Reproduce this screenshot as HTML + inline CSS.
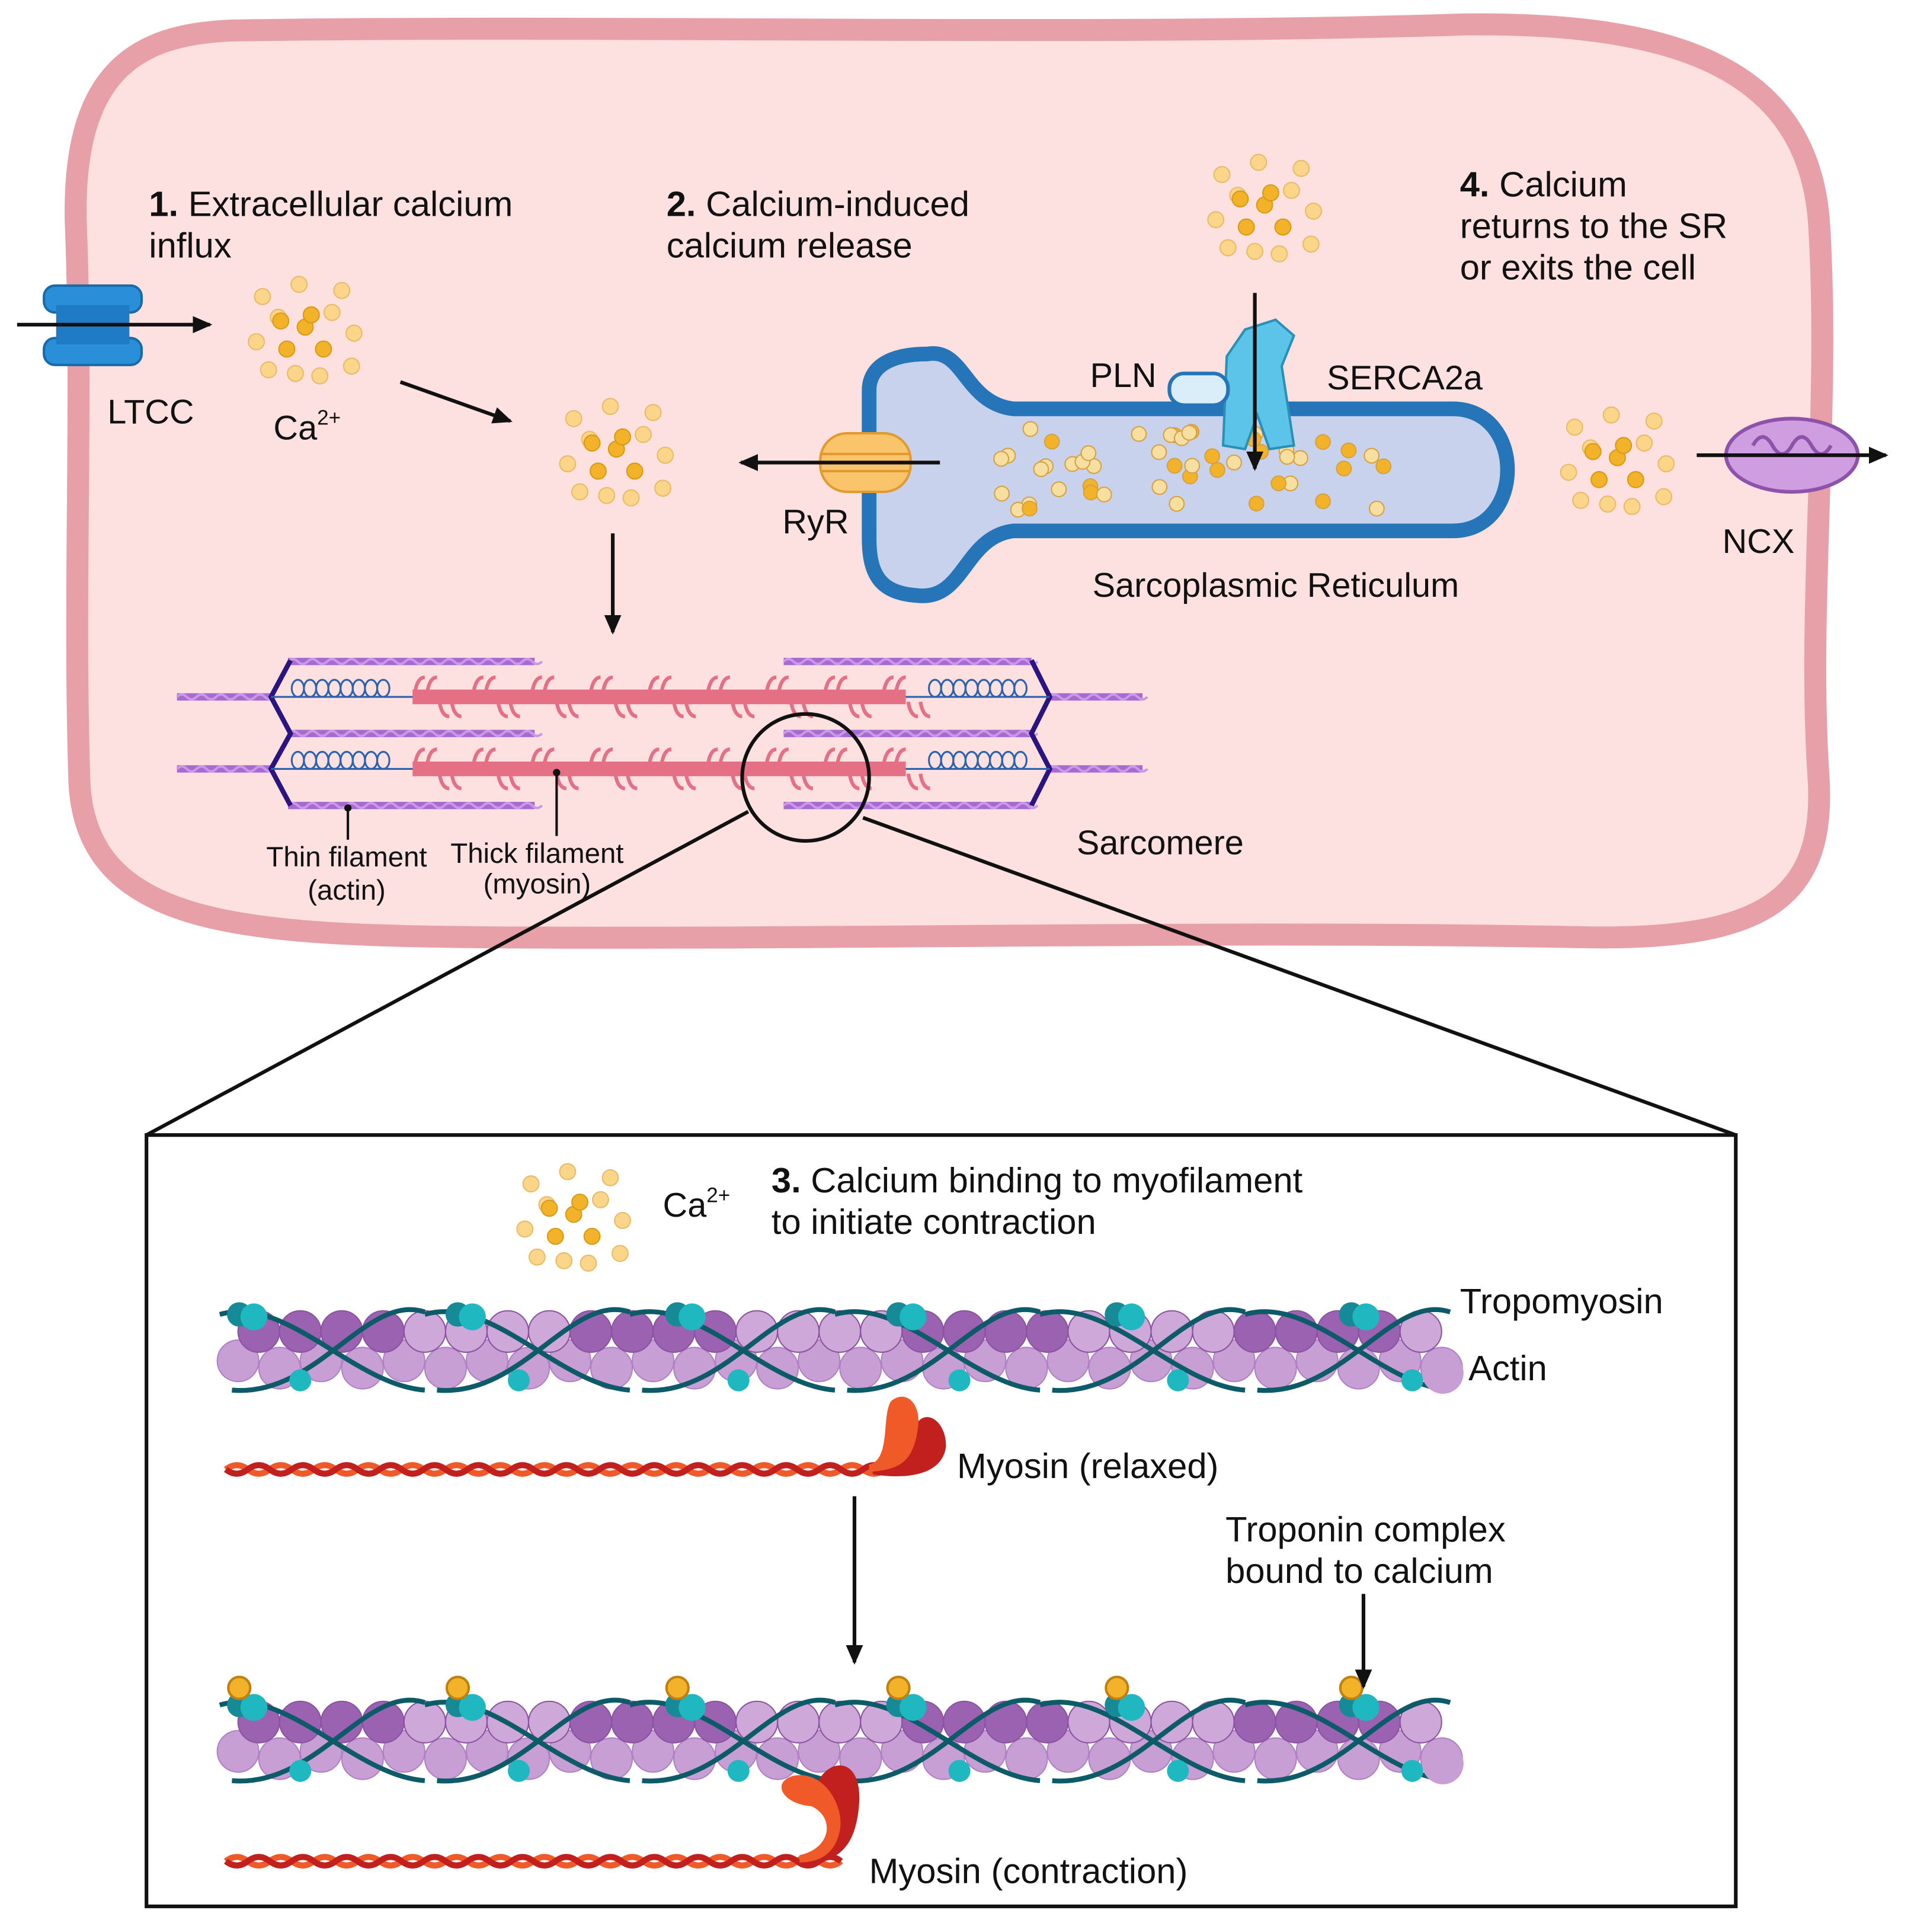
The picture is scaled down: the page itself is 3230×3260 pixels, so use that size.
<!DOCTYPE html>
<html><head><meta charset="utf-8"><style>
html,body{margin:0;padding:0;background:#fff}
svg{display:block}
text{font-family:"Liberation Sans",sans-serif;fill:#111}
</style></head><body>
<svg id="s" width="3230" height="3260" viewBox="0 0 1568 1583" preserveAspectRatio="none" xmlns="http://www.w3.org/2000/svg">
<defs>
<marker id="ah2" markerWidth="16" markerHeight="14" refX="14" refY="7" orient="auto" markerUnits="userSpaceOnUse"><path d="M0,0 L16,7 L0,14 z" fill="#111"/></marker>
</defs>
<rect width="1568" height="1583" fill="#fff"/>
<path d="M190,25 C500,20 900,30 1200,20 C1380,18 1480,60 1490,180 C1500,330 1480,500 1490,640 C1495,740 1440,770 1300,768 C1000,762 700,770 400,768 C200,766 70,760 65,640 C60,480 68,330 62,180 C60,60 110,28 190,25 z" fill="#fde0e0" stroke="#e8a0a8" stroke-width="18"/>
<g id="dyn"></g>
<circle cx="660" cy="637" r="52" fill="none" stroke="#111" stroke-width="3"/>
<line x1="613" y1="665" x2="120" y2="930" stroke="#111" stroke-width="3"/>
<line x1="707" y1="670" x2="1422" y2="930" stroke="#111" stroke-width="3"/>
<rect x="120" y="930" width="1302" height="632" fill="#fff" stroke="#111" stroke-width="3"/>
<g id="dyn2"></g>
<g font-size="29">
<text x="122" y="177"><tspan font-weight="bold">1.</tspan> Extracellular calcium</text>
<text x="122" y="211">influx</text>
<text x="546" y="177"><tspan font-weight="bold">2.</tspan> Calcium-induced</text>
<text x="546" y="211">calcium release</text>
<text x="1196" y="161"><tspan font-weight="bold">4.</tspan> Calcium</text>
<text x="1196" y="195">returns to the SR</text>
<text x="1196" y="229">or exits the cell</text>
<text x="632" y="977"><tspan font-weight="bold">3.</tspan> Calcium binding to myofilament</text>
<text x="632" y="1011">to initiate contraction</text>
<text x="1196" y="1076">Tropomyosin</text>
<text x="1203" y="1131">Actin</text>
<text x="784" y="1211">Myosin (relaxed)</text>
<text x="1004" y="1263">Troponin complex</text>
<text x="1004" y="1297">bound to calcium</text>
<text x="712" y="1543">Myosin (contraction)</text>
</g>
<g font-size="28">
<text x="88" y="347">LTCC</text>
<text x="224" y="360">Ca<tspan font-size="17" dy="-12">2+</tspan></text>
<text x="641" y="437">RyR</text>
<text x="893" y="317">PLN</text>
<text x="1087" y="319">SERCA2a</text>
<text x="895" y="489">Sarcoplasmic Reticulum</text>
<text x="1411" y="453">NCX</text>
<text x="882" y="700">Sarcomere</text>
<text x="543" y="997">Ca<tspan font-size="17" dy="-12">2+</tspan></text>
</g>
<text x="284" y="710" font-size="23" text-anchor="middle">Thin filament</text>
<text x="284" y="737" font-size="23" text-anchor="middle">(actin)</text>
<text x="440" y="707" font-size="23" text-anchor="middle">Thick filament</text>
<text x="440" y="732" font-size="23" text-anchor="middle">(myosin)</text>
</svg>
<script>
const NS="http://www.w3.org/2000/svg";
function el(p,t,a){const e=document.createElementNS(NS,t);for(const k in a)e.setAttribute(k,a[k]);p.appendChild(e);return e;}
const g=document.getElementById('dyn'),g2=document.getElementById('dyn2');
let seed=7;function rnd(){seed=(seed*9301+49297)%233280;return seed/233280;}
const cl=[[0,0,1],[-22,-8,0],[22,-12,0],[-15,18,1],[15,18,1],[-40,12,0],[40,5,0],[-5,-35,0],[30,-30,0],[-35,-25,0],[-30,35,0],[-8,38,0],[12,40,0],[38,32,0],[5,-10,1],[-20,-5,1]];
function cluster(p,cx,cy){cl.forEach(c=>el(p,'circle',{cx:cx+c[0],cy:cy+c[1],r:6.5,fill:c[2]?'#f2b32a':'#fbd58a',stroke:c[2]?'#d99a10':'#e8bb66','stroke-width':1}));}
cluster(g,250,268);cluster(g,505,368);cluster(g,1036,168);cluster(g,1325,375);cluster(g2,470,995);
el(g,'rect',{x:36,y:234,width:80,height:22,rx:9,fill:'#2a8fd8',stroke:'#1a6aa8','stroke-width':2});
el(g,'rect',{x:36,y:277,width:80,height:22,rx:9,fill:'#2a8fd8',stroke:'#1a6aa8','stroke-width':2});
el(g,'rect',{x:46,y:250,width:60,height:32,fill:'#1f7cc4'});
el(g,'line',{x1:14,y1:266,x2:172,y2:266,stroke:'#111','stroke-width':3,'marker-end':'url(#ah2)'});
el(g,'line',{x1:328,y1:313,x2:418,y2:345,stroke:'#111','stroke-width':3,'marker-end':'url(#ah2)'});
el(g,'line',{x1:502,y1:437,x2:502,y2:518,stroke:'#111','stroke-width':3,'marker-end':'url(#ah2)'});
el(g,'path',{d:'M760,290 C790,285 790,330 830,335 L1190,335 C1250,335 1250,435 1190,435 L830,435 C790,440 790,492 752,488 C720,486 712,470 712,440 L712,320 C712,300 730,290 760,290 z',fill:'#c8d2ec',stroke:'#2675b8','stroke-width':12});
for(let i=0;i<50;i++){const x=818+rnd()*320,y=350+rnd()*72;const d=rnd()<0.35;el(g,'circle',{cx:x,cy:y,r:6,fill:d?'#f2b32a':'#f6dfa0',stroke:'#d9a040','stroke-width':1});}
el(g,'rect',{x:672,y:355,width:74,height:48,rx:22,fill:'#f9c46a',stroke:'#e09a30','stroke-width':2});
el(g,'line',{x1:672,y1:372,x2:746,y2:372,stroke:'#e09a30','stroke-width':2});
el(g,'line',{x1:672,y1:386,x2:746,y2:386,stroke:'#e09a30','stroke-width':2});
el(g,'line',{x1:770,y1:379,x2:607,y2:379,stroke:'#111','stroke-width':3,'marker-end':'url(#ah2)'});
el(g,'path',{d:'M1005,292 L1020,270 L1045,262 L1060,275 L1050,300 L1060,365 L1040,368 L1030,340 L1020,368 L1002,365 z',fill:'#5cc4e8',stroke:'#2a90b8','stroke-width':2});
el(g,'rect',{x:958,y:306,width:48,height:26,rx:12,fill:'#daeefa',stroke:'#2675b8','stroke-width':3});
el(g,'line',{x1:1028,y1:240,x2:1028,y2:384,stroke:'#111','stroke-width':3,'marker-end':'url(#ah2)'});
el(g,'ellipse',{cx:1468,cy:373,rx:54,ry:30,fill:'#cf9ee0',stroke:'#8e52aa','stroke-width':3});
el(g,'path',{d:'M1436,365 q8,-14 16,0 q8,14 16,0 q8,-14 16,0 q8,14 16,0',fill:'none',stroke:'#8e52aa','stroke-width':3});
el(g,'line',{x1:1390,y1:373,x2:1545,y2:373,stroke:'#111','stroke-width':3,'marker-end':'url(#ah2)'});
function thin(x1,x2,y){el(g,'line',{x1,y1:y,x2,y2:y,stroke:'#a86ad0','stroke-width':6});let d='M'+x1+','+y;for(let x=x1;x<x2;x+=16)d+=' q4,-4 8,0 q4,4 8,0';el(g,'path',{d,fill:'none',stroke:'#c89ae6','stroke-width':2});}
[542,601,660].forEach(y=>{thin(236,438,y);thin(642,845,y);});
[571,630].forEach(y=>{thin(145,222,y);thin(860,936,y);});
el(g,'path',{d:'M238,541 L222,571 L238,601 L222,630 L238,660',fill:'none',stroke:'#2a1480','stroke-width':4});
el(g,'path',{d:'M845,541 L860,571 L845,601 L860,630 L845,660',fill:'none',stroke:'#2a1480','stroke-width':4});
[571,630].forEach(y=>{
 el(g,'line',{x1:222,y1:y,x2:860,y2:y,stroke:'#2a62b0','stroke-width':1.5});
 for(let i=0;i<8;i++){el(g,'ellipse',{cx:244+i*10,cy:y-7,rx:5,ry:7,fill:'none',stroke:'#2a62b0','stroke-width':1.5});el(g,'ellipse',{cx:766+i*10,cy:y-7,rx:5,ry:7,fill:'none',stroke:'#2a62b0','stroke-width':1.5});}
 el(g,'rect',{x:338,y:y-6,width:404,height:12,fill:'#e57086'});
 for(let x=340;x<740;x+=48){el(g,'path',{d:`M${x},${y-4} q2,-12 8,-12 M${x+10},${y-4} q2,-12 8,-12 M${x+20},${y+4} q2,12 8,12 M${x+30},${y+4} q2,12 8,12`,fill:'none',stroke:'#e57086','stroke-width':3});}
});
el(g,'line',{x1:285,y1:662,x2:285,y2:688,stroke:'#111','stroke-width':2});el(g,'circle',{cx:285,cy:662,r:3,fill:'#111'});
el(g,'line',{x1:456,y1:633,x2:456,y2:685,stroke:'#111','stroke-width':2});el(g,'circle',{cx:456,cy:633,r:3,fill:'#111'});
function filament(y0,ca){
 const dk='#0d5a68';
 for(let i=0;i<30;i++){const x=195+i*34;el(g2,'circle',{cx:x,cy:y0+12+((i%2)?4:-2),r:17,fill:'#c79fd4',stroke:'#b080c4','stroke-width':1});}
 for(let i=0;i<29;i++){const x=212+i*34;el(g2,'circle',{cx:x,cy:y0-14,r:17,fill:(Math.floor(i/4)%2)?'#cfa8da':'#9a62b0',stroke:'#8a52a0','stroke-width':1});}
 const sp=168;
 for(let s=0;s<6;s++){const x=180+s*sp;
  el(g2,'path',{d:`M${x},${y0-28} C${x+55},${y0-44} ${x+110},${y0+30} ${x+sp},${y0+34}`,fill:'none',stroke:dk,'stroke-width':4});
  el(g2,'path',{d:`M${x+10},${y0+34} C${x+80},${y0+40} ${x+120},${y0-46} ${x+sp},${y0-30}`,fill:'none',stroke:dk,'stroke-width':4});
  const tx=[196,375,555,736,915,1107][s];
  el(g2,'circle',{cx:tx,cy:y0-28,r:10,fill:'#168a96'});el(g2,'circle',{cx:tx+12,cy:y0-26,r:11,fill:'#20b8c0'});
  el(g2,'circle',{cx:tx+50,cy:y0+26,r:9,fill:'#20b8c0'});
  if(ca)el(g2,'circle',{cx:tx,cy:y0-42,r:9,fill:'#f2b32a',stroke:'#c08010','stroke-width':2});
 }
 el(g2,'circle',{cx:1182,cy:y0+20,r:17,fill:'#c79fd4'});
}
filament(1105,false);filament(1425,true);
function myosin(y,x2){let a='M185,'+y,b='M185,'+y;for(let x=185;x<x2;x+=36){a+=` q9,-7 18,0 q9,7 18,0`;b+=` q9,7 18,0 q9,-7 18,0`;}
 el(g2,'path',{d:a,fill:'none',stroke:'#f05a28','stroke-width':5});el(g2,'path',{d:b,fill:'none',stroke:'#c21f1f','stroke-width':5});}
myosin(1204,720);
el(g2,'path',{d:'M715,1202 C735,1200 745,1180 752,1165 C760,1155 775,1165 775,1185 C772,1210 740,1212 715,1208 z',fill:'#c21f1f'});
el(g2,'path',{d:'M712,1200 C730,1196 722,1160 730,1148 C742,1138 755,1150 752,1170 C748,1200 735,1204 712,1206 z',fill:'#f05a28'});
myosin(1525,670);
el(g2,'path',{d:'M660,1522 C690,1520 690,1480 670,1460 C680,1440 705,1440 704,1475 C702,1510 690,1525 660,1528 z',fill:'#c21f1f'});
el(g2,'path',{d:'M655,1520 C680,1515 685,1490 665,1480 C640,1478 632,1460 650,1455 C675,1450 692,1480 688,1500 C684,1520 670,1526 655,1526 z',fill:'#f05a28'});
el(g2,'line',{x1:700,y1:1226,x2:700,y2:1362,stroke:'#111','stroke-width':3,'marker-end':'url(#ah2)'});
el(g2,'line',{x1:1117,y1:1306,x2:1117,y2:1382,stroke:'#111','stroke-width':3,'marker-end':'url(#ah2)'});
</script>
</body></html>
